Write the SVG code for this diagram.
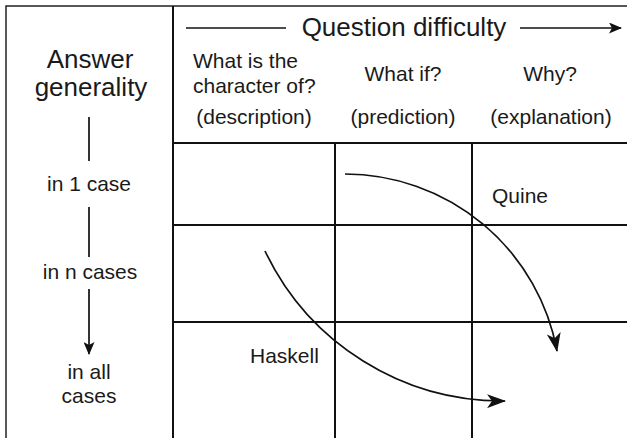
<svg xmlns="http://www.w3.org/2000/svg" width="627" height="438" viewBox="0 0 627 438">
<style>
text{font-family:"Liberation Sans",Arial,sans-serif;fill:#1a1a1a;font-size:21px}
.big{font-size:26px}
.mid{text-anchor:middle}
.grid{stroke:#111;stroke-width:2;fill:none}
.border{stroke:#222;stroke-width:1.5;fill:none}
.conn{stroke:#111;stroke-width:1.7;fill:none}
</style>
<defs>
<marker id="ah" viewBox="0 0 19 14" refX="18" refY="7" markerWidth="19" markerHeight="14" markerUnits="userSpaceOnUse" orient="auto">
<path d="M0,0 L19,7 L0,14 L5,7 Z" fill="#111"/>
</marker>
<marker id="ahs" viewBox="0 0 13 11" refX="12" refY="5.5" markerWidth="13" markerHeight="11" markerUnits="userSpaceOnUse" orient="auto">
<path d="M0,0 L13,5.5 L0,11 L3,5.5 Z" fill="#111"/>
</marker>
</defs>
<g id="frame">
<path class="border" d="M6,438 V6 H627"/>
<path class="grid" d="M173,6 V438 M173,143 H627 M173,225 H627 M173,322 H627 M335,143 V438 M472,143 V438"/>
</g>
<g id="header">
<text class="big mid" x="404" y="36">Question difficulty</text>
<text x="193" y="68">What is the</text>
<text x="193" y="93">character of?</text>
<text class="mid" x="254" y="124">(description)</text>
<text class="mid" x="403" y="81">What if?</text>
<text class="mid" x="403" y="124">(prediction)</text>
<text class="mid" x="550" y="81">Why?</text>
<text class="mid" x="551" y="124">(explanation)</text>
</g>
<g id="rows">
<text class="big mid" x="90" y="68">Answer</text>
<text class="big mid" x="91" y="96">generality</text>
<text class="mid" x="89" y="191">in 1 case</text>
<text class="mid" x="90" y="279">in n cases</text>
<text class="mid" x="89" y="379">in all</text>
<text class="mid" x="89" y="403">cases</text>
</g>
<g id="quine"><text x="492" y="203">Quine</text></g>
<g id="haskell"><text x="250" y="363">Haskell</text></g>
<g id="connectors">
<line class="conn" x1="186" y1="28" x2="286" y2="28"/>
<line class="conn" x1="520" y1="28" x2="621" y2="28" marker-end="url(#ahs)"/>
<line class="conn" x1="89" y1="117" x2="89" y2="161"/>
<line class="conn" x1="89" y1="207" x2="89" y2="257"/>
<line class="conn" x1="89" y1="289" x2="89" y2="354" marker-end="url(#ahs)"/>
<path class="conn" d="M345,174 A216,216 0 0 1 557,351" marker-end="url(#ah)"/>
<path class="conn" d="M265,251 A263,263 0 0 0 505,401" marker-end="url(#ah)"/>
</g>
</svg>
